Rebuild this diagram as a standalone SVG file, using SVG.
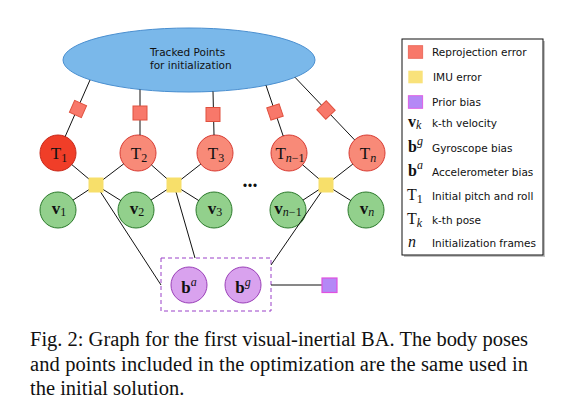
<svg xmlns="http://www.w3.org/2000/svg" width="561" height="406" viewBox="0 0 561 406">
<style>
.edge{stroke:#111;stroke-width:1;fill:none}
.tn{fill:#f88a78;stroke:#d83c34;stroke-width:1}
.t1{fill:#f03e28;stroke:#c8281a;stroke-width:1}
.vn{fill:#92d08c;stroke:#2c7a2c;stroke-width:1}
.bn{fill:#d9a2ee;stroke:#9a40b8;stroke-width:1}
.rep{fill:#f8786a;stroke:#e0503e;stroke-width:1}
.imu{fill:#f7df6a}
.pri{fill:#b488f6;stroke:#e050e0;stroke-width:1.2}
.m{font-family:"Liberation Serif","DejaVu Serif",serif;font-size:17px;fill:#111;text-anchor:middle}
.b{font-weight:bold}
.i{font-style:italic}
.s{font-size:12px}
.lg{font-family:"DejaVu Sans","Liberation Sans",sans-serif;font-size:10.5px;fill:#111}
.lm{font-family:"Liberation Serif","DejaVu Serif",serif;font-size:16px;fill:#111}
.cap{font-family:"Liberation Serif","Times New Roman",serif;font-size:20.5px;fill:#111}
</style>

<g id="tracked-points">
<ellipse cx="189" cy="60" rx="126" ry="32" fill="#7ab8ea" stroke="#4a8fd0" stroke-width="1"/>
<text class="lg" x="150" y="56" fill="#1a2633">Tracked Points</text>
<text class="lg" x="150" y="68.5" fill="#1a2633">for initialization</text>
</g>

<g id="T1"><circle class="t1" cx="58" cy="153" r="18"/><text class="m" x="59" y="159">T<tspan class="s" dy="3">1</tspan></text></g>
<g id="T2"><circle class="tn" cx="138" cy="153" r="18"/><text class="m" x="139" y="159">T<tspan class="s" dy="3">2</tspan></text></g>
<g id="T3"><circle class="tn" cx="215" cy="153" r="18"/><text class="m" x="216" y="159">T<tspan class="s" dy="3">3</tspan></text></g>
<g id="Tn-1"><circle class="tn" cx="289" cy="153" r="18"/><text class="m" x="290" y="159">T<tspan class="s i" dy="3">n</tspan><tspan class="s" dy="0">−1</tspan></text></g>
<g id="Tn"><circle class="tn" cx="367" cy="153" r="18"/><text class="m" x="368" y="159">T<tspan class="s i" dy="3">n</tspan></text></g>

<g id="v1"><circle class="vn" cx="58" cy="210" r="18"/><text class="m" x="59" y="214"><tspan class="b">v</tspan><tspan class="s" dy="2">1</tspan></text></g>
<g id="v2"><circle class="vn" cx="136" cy="210" r="18"/><text class="m" x="137" y="214"><tspan class="b">v</tspan><tspan class="s" dy="2">2</tspan></text></g>
<g id="v3"><circle class="vn" cx="214" cy="210" r="18"/><text class="m" x="215" y="214"><tspan class="b">v</tspan><tspan class="s" dy="2">3</tspan></text></g>
<g id="vn-1"><circle class="vn" cx="288" cy="210" r="18"/><text class="m" x="288" y="214"><tspan class="b">v</tspan><tspan class="s i" dy="2">n</tspan><tspan class="s">−1</tspan></text></g>
<g id="vn"><circle class="vn" cx="366" cy="210" r="18"/><text class="m" x="367" y="214"><tspan class="b">v</tspan><tspan class="s i" dy="2">n</tspan></text></g>

<g id="bias-group">
<rect x="161" y="258" width="110" height="53" fill="none" stroke="#9a40c8" stroke-width="1" stroke-dasharray="4,3"/>
</g>
<g id="ba"><circle class="bn" cx="189" cy="285" r="18"/><text class="m" x="189" y="293"><tspan class="b">b</tspan><tspan class="s i" dy="-7">a</tspan></text></g>
<g id="bg"><circle class="bn" cx="243" cy="285" r="18"/><text class="m" x="243" y="293"><tspan class="b">b</tspan><tspan class="s i" dy="-7">g</tspan></text></g>

<g id="ellipsis"><text x="250" y="187" font-family="Liberation Serif,serif" font-weight="bold" font-size="20" text-anchor="middle" fill="#111">...</text></g>

<g id="connectors">
<line class="edge" x1="90" y1="80" x2="65.2" y2="136.5"/>
<line class="edge" x1="140" y1="89.5" x2="140" y2="135"/>
<line class="edge" x1="213" y1="91.4" x2="214" y2="135"/>
<line class="edge" x1="266" y1="85.3" x2="283.2" y2="136"/>
<line class="edge" x1="295" y1="77.3" x2="354.6" y2="139.9"/>

<line class="edge" x1="96" y1="185" x2="71.8" y2="164.6"/>
<line class="edge" x1="96" y1="185" x2="123.7" y2="163.9"/>
<line class="edge" x1="96" y1="185" x2="73" y2="200.1"/>
<line class="edge" x1="96" y1="185" x2="120.7" y2="200.5"/>

<line class="edge" x1="174" y1="185" x2="151.4" y2="164.9"/>
<line class="edge" x1="174" y1="185" x2="200.8" y2="164.1"/>
<line class="edge" x1="174" y1="185" x2="151" y2="200.1"/>
<line class="edge" x1="174" y1="185" x2="198.7" y2="200.5"/>

<line class="edge" x1="326" y1="185" x2="302.6" y2="164.8"/>
<line class="edge" x1="326" y1="185" x2="352.8" y2="164.1"/>
<line class="edge" x1="326" y1="185" x2="303" y2="200.1"/>
<line class="edge" x1="326" y1="185" x2="350.7" y2="200.5"/>

<line class="edge" x1="96" y1="185" x2="161" y2="285"/>
<line class="edge" x1="174" y1="185" x2="195" y2="258"/>
<line class="edge" x1="326" y1="185" x2="271" y2="265"/>
<line class="edge" x1="271" y1="285" x2="322" y2="285"/>
</g>

<g id="rep1"><rect class="rep" x="-6.5" y="-6.5" width="13" height="13" transform="translate(78,109) rotate(23.7)"/></g>
<g id="rep2"><rect class="rep" x="133" y="106" width="14" height="14"/></g>
<g id="rep3"><rect class="rep" x="206" y="107.5" width="14" height="14"/></g>
<g id="rep4"><rect class="rep" x="-6.5" y="-6.5" width="13" height="13" transform="translate(275,112) rotate(-18.7)"/></g>
<g id="rep5"><rect class="rep" x="-6.5" y="-6.5" width="13" height="13" transform="translate(326,110) rotate(-43.6)"/></g>

<g id="imu1"><rect class="imu" x="88.5" y="177.5" width="15" height="15"/></g>
<g id="imu2"><rect class="imu" x="166.5" y="177.5" width="15" height="15"/></g>
<g id="imu3"><rect class="imu" x="318.5" y="177.5" width="15" height="15"/></g>

<g id="prior"><rect class="pri" x="322" y="278" width="15" height="14.5"/></g>

<g id="legend">
<rect x="404" y="41" width="141" height="216" fill="#999" opacity="0.6"/>
<rect x="402" y="39" width="141" height="216" fill="#fff" stroke="#111" stroke-width="1"/>
<rect x="408.3" y="45.7" width="14.4" height="12.6" fill="#f8786a" stroke="#e86050" stroke-width="0.8"/>
<text class="lg" x="432" y="56">Reprojection error</text>
<rect x="408.3" y="70.7" width="14.4" height="12.6" fill="#f9e27a"/>
<text class="lg" x="433" y="81">IMU error</text>
<rect x="408.3" y="95.7" width="14.4" height="12.6" fill="#b488f6" stroke="#e050e0" stroke-width="0.8"/>
<text class="lg" x="432" y="106">Prior bias</text>
<text class="lm" x="408" y="127"><tspan class="b">v</tspan><tspan class="s i" dy="2">k</tspan></text>
<text class="lg" x="432" y="127">k-th velocity</text>
<text class="lm" x="408" y="151.5"><tspan class="b">b</tspan><tspan class="s i" dy="-7">g</tspan></text>
<text class="lg" x="432" y="151.5">Gyroscope bias</text>
<text class="lm" x="408" y="175.5"><tspan class="b">b</tspan><tspan class="s i" dy="-7">a</tspan></text>
<text class="lg" x="432" y="175.5">Accelerometer bias</text>
<text class="lm" x="407" y="199.5">T<tspan class="s" dy="3">1</tspan></text>
<text class="lg" x="432" y="199.5">Initial pitch and roll</text>
<text class="lm" x="407" y="223.5">T<tspan class="s i" dy="3">k</tspan></text>
<text class="lg" x="432" y="223.5">k-th pose</text>
<text class="lm i" x="408" y="247">n</text>
<text class="lg" x="432" y="247">Initialization frames</text>
</g>

<g id="caption">
<text class="cap" x="30" y="346" textLength="498" lengthAdjust="spacing">Fig. 2: Graph for the first visual-inertial BA. The body poses</text>
<text class="cap" x="30" y="370.5" textLength="498" lengthAdjust="spacing">and points included in the optimization are the same used in</text>
<text class="cap" x="30" y="395">the initial solution.</text>
</g>
</svg>
